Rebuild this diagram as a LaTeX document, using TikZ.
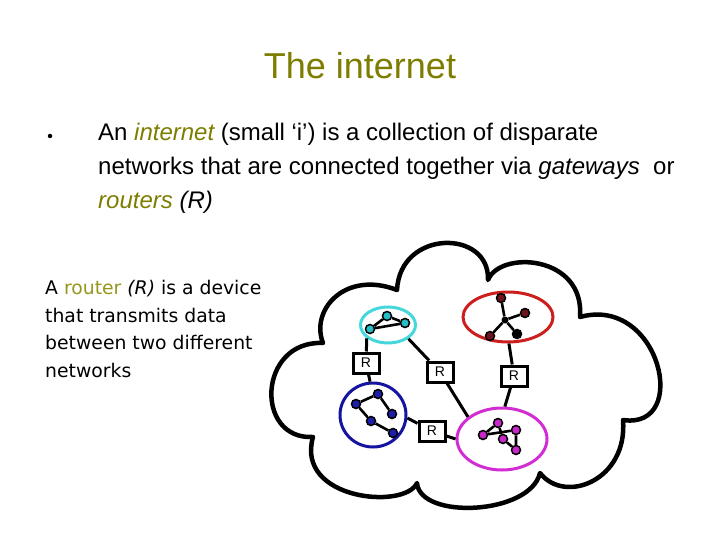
\documentclass[tikz,border=0pt]{standalone}
\usepackage{fontspec}
\setmainfont{Liberation Sans}
\newfontfamily\comicfont{DejaVu Sans}
\usetikzlibrary{shapes.geometric}
\definecolor{olivet}{RGB}{125,125,0}
\definecolor{olivel}{RGB}{150,150,30}
\definecolor{cyanline}{RGB}{70,215,220}
\definecolor{cyanfill}{RGB}{40,190,200}
\definecolor{redline}{RGB}{205,30,30}
\definecolor{maroonfill}{RGB}{110,20,30}
\definecolor{blueline}{RGB}{20,20,160}
\definecolor{bluefill}{RGB}{30,30,170}
\definecolor{magline}{RGB}{210,45,210}
\definecolor{magfill}{RGB}{200,40,200}
\tikzset{
  cloudline/.style={draw=black, line width=4.5, line join=round},
  netring/.style={ellipse, line width=3, inner sep=0},
  router/.style={draw=black, fill=white, line width=3, minimum width=26, minimum height=20, inner sep=0, font=\fontsize{14}{14}\selectfont},
  link/.style={draw=black, line width=3},
  edge/.style={draw=black, line width=2.6},
  dot/.style={circle, draw=black, line width=1.5, inner sep=0, minimum size=9},
  body/.style={anchor=base west, inner sep=0, font=\fontsize{24}{28}\selectfont},
  side/.style={anchor=base west, inner sep=0, font=\comicfont\fontsize{18.8}{22}\selectfont}
}
\begin{document}
\begin{tikzpicture}[x=1pt,y=-1pt]
\useasboundingbox (0,0) rectangle (720,540);
% title
\node[text=olivet, font=\fontsize{36}{40}\selectfont, inner sep=0] (title) at (360,66) {The internet};
% bullet text
\node[circle, fill=black, inner sep=0, minimum size=4.5] (bullet) at (50,136) {};
\node[body] (l1) at (98,141) {An \textit{\color{olivet}internet} (small ‘i’) is a collection of disparate};
\node[body] (l2) at (98,175) {networks that are connected together via \textit{gateways}\ \ or};
\node[body] (l3) at (98,209) {\textit{\color{olivet}routers} \textit{(R)}};
% side text
\node[side] (s1) at (45,294) {A {\color{olivel}router} \textit{(R)} is a device};
\node[side] (s2) at (45,322) {that transmits data};
\node[side] (s3) at (45,349) {between two different};
\node[side] (s4) at (45,377) {networks};
% cloud
\draw[cloudline] (313,437) .. controls (254,440) and (258,340) .. (323,343)
  .. controls (310,310) and (345,270) .. (397,290)
  .. controls (400,229) and (490,229) .. (488,280)
  .. controls (500,250) and (585,255) .. (580,317)
  .. controls (660,295) and (691,430) .. (623,420)
  .. controls (628,480) and (565,505) .. (540,473)
  .. controls (530,515) and (420,520) .. (417,483)
  .. controls (405,510) and (295,500) .. (313,437) -- cycle;
% networks
\node[netring, draw=cyanline, minimum width=55, minimum height=36] (cy) at (388,325) {};
\node[netring, draw=redline, minimum width=90, minimum height=50] (rd) at (508,317) {};
\node[netring, draw=blueline, minimum width=66, minimum height=64] (bl) at (373,415) {};
\node[netring, draw=magline, minimum width=90, minimum height=62] (mg) at (502,439) {};
% routers
\node[router] (R1) at (366,363) {R};
\node[router] (R2) at (440,372) {R};
\node[router] (R3) at (514,376) {R};
\node[router] (R4) at (432,431) {R};
\draw[link] (cy.212) -- (R1);
\draw[link] (R1) -- (bl.95);
\draw[link] (cy.326) -- (R2);
\draw[link] (R2) -- (mg.147);
\draw[link] (rd.272) -- (R3);
\draw[link] (R3) -- (mg.85);
\draw[link] (bl.355) -- (R4);
\draw[link] (R4) -- (mg.180);
% cyan network
\node[dot, fill=cyanfill] (c1) at (370,329) {};
\node[dot, fill=cyanfill] (c2) at (387,316) {};
\node[dot, fill=cyanfill] (c3) at (405,323) {};
\draw[edge] (c1) -- (c2) (c2) -- (c3) (c3) -- (c1);
% red network (star)
\node[circle, fill=black, inner sep=0, minimum size=7] (r0) at (505,320) {};
\node[dot, fill=maroonfill] (r1) at (501,298) {};
\node[dot, fill=maroonfill] (r2) at (525,313) {};
\node[dot, fill=black] (r3) at (517,334) {};
\node[dot, fill=maroonfill] (r4) at (490,336) {};
\draw[edge] (r0) -- (r1) (r0) -- (r2) (r0) -- (r3) (r0) -- (r4);
% blue network
\node[dot, fill=bluefill] (b1) at (356,404) {};
\node[dot, fill=bluefill] (b2) at (378,394) {};
\node[dot, fill=bluefill] (b3) at (392,414) {};
\node[dot, fill=bluefill] (b4) at (371,421) {};
\node[dot, fill=bluefill] (b5) at (393,433) {};
\draw[edge] (b1) -- (b2) (b2) -- (b3) (b1) -- (b4) (b4) -- (b5);
% magenta network
\node[dot, fill=magfill] (m1) at (483,435) {};
\node[dot, fill=magfill] (m2) at (498,423) {};
\node[dot, fill=magfill] (m3) at (516,430) {};
\node[dot, fill=magfill] (m4) at (503,439) {};
\node[dot, fill=magfill] (m5) at (516,450) {};
\draw[edge] (m1) -- (m2) (m1) -- (m3) (m2) -- (m4) (m4) -- (m5) (m5) -- (m3);
\end{tikzpicture}
\end{document}
